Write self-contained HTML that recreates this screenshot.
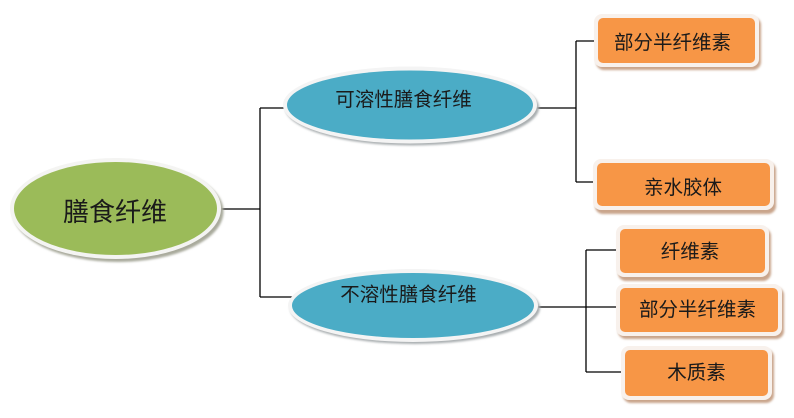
<!DOCTYPE html>
<html>
<head>
<meta charset="utf-8">
<style>
html,body{margin:0;padding:0;background:#fff;}
svg{display:block;}
text{font-family:"Liberation Sans","Noto Sans CJK SC","WenQuanYi Zen Hei",sans-serif;fill:#1a1a1a;}
</style>
</head>
<body>
<svg width="794" height="418" viewBox="0 0 794 418" xmlns="http://www.w3.org/2000/svg">
<defs>
<filter id="sh" x="-10%" y="-10%" width="120%" height="130%">
<feGaussianBlur stdDeviation="1"/>
</filter>
</defs>
<g stroke="#000" stroke-width="1.3" fill="none">
<path d="M218 209 H260 M260 108 V297 M260 108 H290 M260 297 H294"/>
<path d="M533 108 H576 M576 41 V182 M576 41 H597 M576 182 H597"/>
<path d="M534 307 H586 M586 250 V372 M586 250 H620 M586 307 H620 M586 372 H625"/>
</g>

<!-- main ellipse -->
<ellipse cx="118" cy="211.5" rx="105.5" ry="50.5" fill="#a9aa9c" filter="url(#sh)"/>
<ellipse cx="115.5" cy="208.5" rx="105.5" ry="50.5" fill="#f4f4f2"/>
<ellipse cx="115.5" cy="208.5" rx="101.5" ry="46.5" fill="#9bbb59"/>
<text x="115" y="212" font-size="26" text-anchor="middle" dominant-baseline="central">膳食纤维</text>

<!-- soluble -->
<ellipse cx="412" cy="107.5" rx="127" ry="38" fill="#a9aeb0" filter="url(#sh)"/>
<ellipse cx="410" cy="105" rx="127" ry="38.5" fill="#f4f4f4"/>
<ellipse cx="410" cy="105" rx="123" ry="34.5" fill="#4bacc6"/>
<text x="403.5" y="100" font-size="19.5" text-anchor="middle" dominant-baseline="central">可溶性膳食纤维</text>

<!-- insoluble -->
<ellipse cx="415" cy="308" rx="125" ry="36" fill="#a9aeb0" filter="url(#sh)"/>
<ellipse cx="413" cy="305.5" rx="125" ry="36.5" fill="#f4f4f4"/>
<ellipse cx="413" cy="305.5" rx="121" ry="32.5" fill="#4bacc6"/>
<text x="408.5" y="295" font-size="19.5" text-anchor="middle" dominant-baseline="central">不溶性膳食纤维</text>

<!-- boxes -->
<g>
<rect x="596" y="17" width="165" height="53" rx="8" fill="#c9a58c" filter="url(#sh)"/>
<rect x="594" y="14" width="165" height="53" rx="8" fill="#f8f1ec"/>
<rect x="598" y="18" width="157" height="45" rx="5" fill="#f79646"/>
<text x="672.5" y="43" font-size="19.5" text-anchor="middle" dominant-baseline="central">部分半纤维素</text>

<rect x="595" y="162" width="181" height="52" rx="8" fill="#c9a58c" filter="url(#sh)"/>
<rect x="593" y="159" width="181" height="51" rx="8" fill="#f8f1ec"/>
<rect x="597" y="163" width="173" height="43" rx="5" fill="#f79646"/>
<text x="683" y="188" font-size="19.5" text-anchor="middle" dominant-baseline="central">亲水胶体</text>

<rect x="618" y="228" width="153" height="53" rx="8" fill="#c9a58c" filter="url(#sh)"/>
<rect x="616" y="225" width="153" height="52" rx="8" fill="#f8f1ec"/>
<rect x="620" y="229" width="145" height="44" rx="5" fill="#f79646"/>
<text x="690" y="252" font-size="19.5" text-anchor="middle" dominant-baseline="central">纤维素</text>

<rect x="618" y="287" width="166" height="52" rx="8" fill="#c9a58c" filter="url(#sh)"/>
<rect x="616" y="284" width="166" height="52" rx="8" fill="#f8f1ec"/>
<rect x="620" y="288" width="158" height="44" rx="5" fill="#f79646"/>
<text x="697.5" y="310" font-size="19.5" text-anchor="middle" dominant-baseline="central">部分半纤维素</text>

<rect x="623" y="349" width="151" height="54" rx="8" fill="#c9a58c" filter="url(#sh)"/>
<rect x="621" y="346" width="151" height="54" rx="8" fill="#f8f1ec"/>
<rect x="625" y="350" width="143" height="46" rx="5" fill="#f79646"/>
<text x="696.5" y="373" font-size="19.5" text-anchor="middle" dominant-baseline="central">木质素</text>
</g>
</svg>
</body>
</html>
